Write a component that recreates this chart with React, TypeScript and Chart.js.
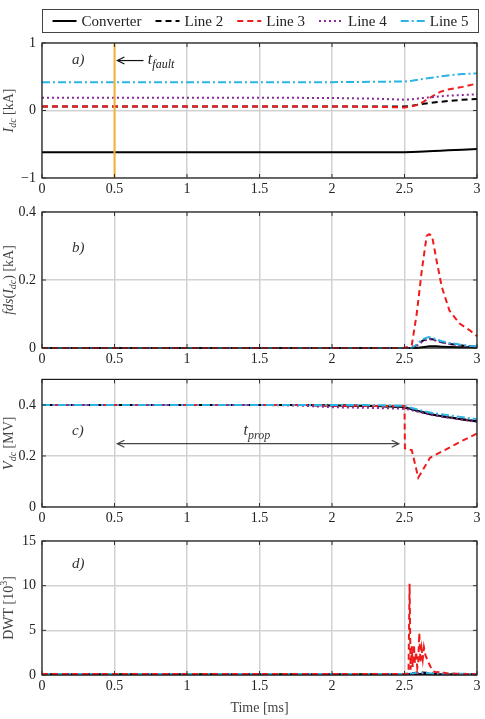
import React, { useEffect, useRef } from "react";
import { Chart, registerables } from "chart.js";
Chart.register(...registerables);

// ---------------- data ----------------
const SERIES_NAMES = ["Converter", "Line 2", "Line 3", "Line 4", "Line 5"];
const X_TICKS = [0, 0.5, 1, 1.5, 2, 2.5, 3];

// a) I_dc [kA]
const timeA = [0, 0.5, 1, 1.5, 2, 2.3, 2.5, 2.55, 2.6, 2.7, 2.75, 2.8, 2.9, 3];
const convA = [-0.62, -0.62, -0.62, -0.62, -0.62, -0.62, -0.62, -0.615, -0.61, -0.6, -0.595, -0.59, -0.58, -0.57];
const line2A = [0.06, 0.06, 0.06, 0.06, 0.06, 0.06, 0.06, 0.07, 0.09, 0.12, 0.13, 0.14, 0.16, 0.17];
const line3A = [0.06, 0.06, 0.06, 0.06, 0.06, 0.055, 0.045, 0.06, 0.09, 0.22, 0.28, 0.31, 0.35, 0.4];
const line4A = [0.19, 0.19, 0.19, 0.19, 0.185, 0.175, 0.16, 0.165, 0.18, 0.2, 0.21, 0.22, 0.23, 0.24];
const line5A = [0.42, 0.42, 0.42, 0.42, 0.42, 0.425, 0.43, 0.44, 0.46, 0.49, 0.505, 0.52, 0.54, 0.55];

// b) fds(I_dc) [kA]
const timeB = [0, 2.5, 2.55, 2.584, 2.62, 2.653, 2.67, 2.69, 2.72, 2.757, 2.81, 2.88, 2.95, 3];
const convB = [0, 0, 0, 0, 0.002, 0.004, 0.005, 0.005, 0.005, 0.004, 0.003, 0.002, 0.002, 0.001];
const line2B = [0, 0, 0, 0.008, 0.02, 0.027, 0.028, 0.026, 0.022, 0.017, 0.012, 0.008, 0.005, 0.004];
const line3B = [0, 0, 0.008, 0.1, 0.23, 0.33, 0.335, 0.33, 0.26, 0.18, 0.11, 0.072, 0.052, 0.035];
const line4B = [0, 0, 0, 0.006, 0.018, 0.024, 0.026, 0.025, 0.021, 0.016, 0.012, 0.008, 0.005, 0.004];
const line5B = [0, 0, 0, 0.01, 0.025, 0.03, 0.032, 0.03, 0.025, 0.02, 0.015, 0.01, 0.006, 0.005];

// c) V_dc [MV]
const timeC = [0, 1.5, 1.8, 2, 2.3, 2.5, 2.503, 2.52, 2.55, 2.595, 2.676, 2.8, 2.9, 3];
const convC = [0.4, 0.4, 0.4, 0.398, 0.396, 0.392, 0.391, 0.388, 0.383, 0.376, 0.363, 0.352, 0.343, 0.335];
const line2C = [0.4, 0.4, 0.4, 0.398, 0.396, 0.392, 0.391, 0.388, 0.383, 0.376, 0.364, 0.352, 0.344, 0.336];
const line3C = [0.4, 0.4, 0.4, 0.397, 0.396, 0.396, 0.23, 0.225, 0.223, 0.115, 0.193, 0.23, 0.26, 0.288];
const line4C = [0.4, 0.4, 0.397, 0.391, 0.388, 0.385, 0.385, 0.383, 0.379, 0.373, 0.362, 0.35, 0.342, 0.334];
const line5C = [0.4, 0.4, 0.4, 0.4, 0.399, 0.396, 0.395, 0.392, 0.388, 0.381, 0.37, 0.36, 0.352, 0.344];

// d) DWT [10^3]
const timeD = [0, 2.5, 2.55, 2.6, 2.65, 2.7, 3];
const convD = [0.08, 0.08, 0.1, 0.12, 0.1, 0.08, 0.08];
const line2D = [0.1, 0.1, 0.2, 0.3, 0.25, 0.15, 0.1];
const line4D = [0.1, 0.1, 0.15, 0.2, 0.18, 0.12, 0.1];
const line5D = [0.12, 0.12, 0.18, 0.28, 0.22, 0.15, 0.12];
const timeD3 = [0, 2.5, 2.52, 2.528, 2.535, 2.542, 2.55, 2.557, 2.565, 2.572, 2.58, 2.588, 2.595, 2.602, 2.61, 2.618, 2.626, 2.634, 2.645, 2.66, 2.68, 2.7, 2.72, 2.75, 2.8, 3];
const line3D = [0.1, 0.1, 0.1, 0.5, 10.2, 0.6, 3.2, 0.9, 3.4, 1.3, 2.6, 0.8, 1.5, 4.7, 1.4, 2.9, 1.8, 3.1, 2.2, 1.6, 0.9, 0.4, 0.3, 0.35, 0.15, 0.1];

// ---------------- styles ----------------
const FONT = '"Liberation Serif", "DejaVu Serif", serif';
const STYLES = [
  { color: "#000000", dash: [] as number[] },
  { color: "#000000", dash: [6, 4] },
  { color: "#ee1c1c", dash: [6, 4] },
  { color: "#8a2a9a", dash: [2, 3] },
  { color: "#2ab4e6", dash: [8, 3, 2, 3] },
];

type Seg = { s: string; it?: boolean; sub?: boolean; sup?: boolean };
function segFont(g: Seg, size: number) {
  const sz = g.sub || g.sup ? Math.round(size * 0.72) : size;
  return `${g.it ? "italic " : ""}${sz}px ${FONT}`;
}
function richWidth(ctx: CanvasRenderingContext2D, segs: Seg[], size: number) {
  let w = 0;
  for (const g of segs) {
    ctx.font = segFont(g, size);
    w += ctx.measureText(g.s).width;
  }
  return w;
}
function drawRich(ctx: CanvasRenderingContext2D, segs: Seg[], x: number, y: number, size: number, color: string, align: "left" | "center") {
  ctx.save();
  ctx.fillStyle = color;
  ctx.textBaseline = "middle";
  ctx.textAlign = "left";
  let cx = align === "center" ? x - richWidth(ctx, segs, size) / 2 : x;
  for (const g of segs) {
    ctx.font = segFont(g, size);
    const dy = g.sub ? size * 0.3 : g.sup ? -size * 0.35 : 0;
    ctx.fillText(g.s, cx, y + dy);
    cx += ctx.measureText(g.s).width;
  }
  ctx.restore();
}
function drawYTitle(chart: any, segs: Seg[]) {
  const ctx = chart.ctx as CanvasRenderingContext2D;
  const a = chart.chartArea;
  ctx.save();
  ctx.translate(9, (a.top + a.bottom) / 2);
  ctx.rotate(-Math.PI / 2);
  drawRich(ctx, segs, 0, 0, 14, "#444", "center");
  ctx.restore();
}
function arrowHead(ctx: CanvasRenderingContext2D, x: number, y: number, dir: number) {
  ctx.beginPath();
  ctx.moveTo(x + dir * 7, y - 3.5);
  ctx.lineTo(x, y);
  ctx.lineTo(x + dir * 7, y + 3.5);
  ctx.stroke();
}

function makeDatasets(list: { t: number[]; v: number[] }[]) {
  return list.map((d, i) => ({
    label: SERIES_NAMES[i],
    data: d.t.map((t, k) => ({ x: t, y: d.v[k] })),
    borderColor: STYLES[i].color,
    borderDash: STYLES[i].dash,
    borderWidth: 2,
    pointRadius: 0,
    tension: 0,
    fill: false,
    clip: false as any,
    order: 5 - i,
  }));
}

type PanelSpec = {
  height: number;
  padTop: number;
  xHeight: number;
  yMin: number;
  yMax: number;
  yTicks: number[];
  datasets: any[];
  decorate: (chart: any) => void;
  afterData?: (chart: any) => void;
};

function fmt(v: number) {
  return String(v).replace("-", "\u2212");
}

function buildConfig(p: PanelSpec): any {
  return {
    type: "line",
    data: { datasets: p.datasets },
    options: {
      responsive: false,
      maintainAspectRatio: false,
      animation: false,
      devicePixelRatio: 1,
      layout: { padding: { top: p.padTop, left: 0, right: 8, bottom: 0 } },
      plugins: { legend: { display: false }, tooltip: { enabled: false } },
      scales: {
        x: {
          type: "linear",
          min: 0,
          max: 3,
          afterBuildTicks: (s: any) => {
            s.ticks = X_TICKS.map((v) => ({ value: v }));
          },
          afterFit: (s: any) => {
            s.height = p.xHeight;
          },
          grid: { color: "#d2d2d2", lineWidth: 1.5, drawTicks: false },
          border: { display: false },
          ticks: { padding: 3, color: "#222", font: { family: FONT, size: 14 }, maxRotation: 0, callback: (v: number) => fmt(v) },
        },
        y: {
          type: "linear",
          min: p.yMin,
          max: p.yMax,
          afterBuildTicks: (s: any) => {
            s.ticks = p.yTicks.map((v) => ({ value: v }));
          },
          afterFit: (s: any) => {
            s.width = 42;
          },
          grid: { color: "#d2d2d2", lineWidth: 1.5, drawTicks: false },
          border: { display: false },
          ticks: { padding: 6, color: "#222", font: { family: FONT, size: 14 }, callback: (v: number) => fmt(v) },
        },
      },
    },
    plugins: [
      {
        id: "deco",
        afterDatasetsDraw: (chart: any) => {
          if (p.afterData) p.afterData(chart);
        },
        afterDraw: (chart: any) => {
          const ctx = chart.ctx as CanvasRenderingContext2D;
          const a = chart.chartArea;
          ctx.save();
          ctx.strokeStyle = "#1a1a1a";
          ctx.lineWidth = 1.2;
          ctx.strokeRect(a.left, a.top, a.right - a.left, a.bottom - a.top);
          // inner tick marks
          ctx.lineWidth = 1;
          ctx.strokeStyle = "#333";
          const xs = chart.scales.x, ys = chart.scales.y;
          ctx.beginPath();
          for (const v of X_TICKS) {
            const x = xs.getPixelForValue(v);
            ctx.moveTo(x, a.bottom); ctx.lineTo(x, a.bottom - 4);
            ctx.moveTo(x, a.top); ctx.lineTo(x, a.top + 4);
          }
          for (const v of p.yTicks) {
            const y = ys.getPixelForValue(v);
            ctx.moveTo(a.left, y); ctx.lineTo(a.left + 4, y);
            ctx.moveTo(a.right, y); ctx.lineTo(a.right - 4, y);
          }
          ctx.stroke();
          ctx.restore();
          p.decorate(chart);
        },
      },
    ],
  };
}

function label(chart: any, text: string, t: number, v: number) {
  const ctx = chart.ctx as CanvasRenderingContext2D;
  drawRich(ctx, [{ s: text, it: true }], chart.scales.x.getPixelForValue(t), chart.scales.y.getPixelForValue(v), 15, "#333", "left");
}

const panelA: PanelSpec = {
  height: 195,
  padTop: 43,
  xHeight: 17,
  yMin: -1,
  yMax: 1,
  yTicks: [-1, 0, 1],
  datasets: makeDatasets([
    { t: timeA, v: convA },
    { t: timeA, v: line2A },
    { t: timeA, v: line3A },
    { t: timeA, v: line4A },
    { t: timeA, v: line5A },
  ]),
  afterData: (chart) => {
    const ctx = chart.ctx as CanvasRenderingContext2D;
    const a = chart.chartArea;
    const x = chart.scales.x.getPixelForValue(0.5);
    ctx.save();
    ctx.strokeStyle = "#f5b335";
    ctx.lineWidth = 2;
    ctx.beginPath();
    ctx.moveTo(x, a.top);
    ctx.lineTo(x, a.bottom);
    ctx.stroke();
    ctx.restore();
  },
  decorate: (chart) => {
    const ctx = chart.ctx as CanvasRenderingContext2D;
    const a = chart.chartArea;
    const xs = chart.scales.x, ys = chart.scales.y;
    // legend
    const bx = a.left, bw = a.right + 2 - a.left, by = 9, bh = 24;
    ctx.save();
    ctx.fillStyle = "#fff";
    ctx.fillRect(bx, by, bw, bh);
    ctx.strokeStyle = "#444";
    ctx.lineWidth = 1;
    ctx.strokeRect(bx + 0.5, by + 0.5, bw - 1, bh - 1);
    ctx.font = `15px ${FONT}`;
    const sample = 24, gapTxt = 5, gapItem = 14;
    const widths = SERIES_NAMES.map((n) => ctx.measureText(n).width);
    const total = widths.reduce((s, w) => s + w + sample + gapTxt, 0) + gapItem * (SERIES_NAMES.length - 1);
    let cx = bx + (bw - total) / 2;
    const cy = by + bh / 2;
    SERIES_NAMES.forEach((n, i) => {
      ctx.strokeStyle = STYLES[i].color;
      ctx.setLineDash(STYLES[i].dash);
      ctx.lineWidth = 2;
      ctx.beginPath();
      ctx.moveTo(cx, cy);
      ctx.lineTo(cx + sample, cy);
      ctx.stroke();
      ctx.setLineDash([]);
      ctx.fillStyle = "#222";
      ctx.textBaseline = "middle";
      ctx.textAlign = "left";
      ctx.fillText(n, cx + sample + gapTxt, cy + 1);
      cx += sample + gapTxt + widths[i] + gapItem;
    });
    ctx.restore();
    // annotations
    label(chart, "a)", 0.207, 0.74);
    const ay = ys.getPixelForValue(0.74);
    const x1 = xs.getPixelForValue(0.52), x2 = xs.getPixelForValue(0.7);
    ctx.save();
    ctx.strokeStyle = "#111";
    ctx.lineWidth = 1.2;
    ctx.beginPath();
    ctx.moveTo(x1, ay);
    ctx.lineTo(x2, ay);
    ctx.stroke();
    arrowHead(ctx, x1, ay, 1);
    ctx.restore();
    drawRich(ctx, [{ s: "t", it: true }, { s: "fault", it: true, sub: true }], xs.getPixelForValue(0.73), ay - 1, 16, "#222", "left");
    drawYTitle(chart, [{ s: "I", it: true }, { s: "dc", it: true, sub: true }, { s: " [kA]" }]);
  },
};

const panelB: PanelSpec = {
  height: 170,
  padTop: 17,
  xHeight: 17,
  yMin: 0,
  yMax: 0.4,
  yTicks: [0, 0.2, 0.4],
  datasets: makeDatasets([
    { t: timeB, v: convB },
    { t: timeB, v: line2B },
    { t: timeB, v: line3B },
    { t: timeB, v: line4B },
    { t: timeB, v: line5B },
  ]).map((d, i) => (i === 2 ? { ...d, order: 0 } : d)),
  decorate: (chart) => {
    label(chart, "b)", 0.207, 0.295);
    drawYTitle(chart, [{ s: "fds", it: true }, { s: "(" }, { s: "I", it: true }, { s: "dc", it: true, sub: true }, { s: ") [kA]" }]);
  },
};

const panelC: PanelSpec = {
  height: 160,
  padTop: 8,
  xHeight: 18,
  yMin: 0,
  yMax: 0.5,
  yTicks: [0, 0.2, 0.4],
  datasets: makeDatasets([
    { t: timeC, v: convC },
    { t: timeC, v: line2C },
    { t: timeC, v: line3C },
    { t: timeC, v: line4C },
    { t: timeC, v: line5C },
  ]),
  decorate: (chart) => {
    const ctx = chart.ctx as CanvasRenderingContext2D;
    const xs = chart.scales.x, ys = chart.scales.y;
    label(chart, "c)", 0.207, 0.297);
    const y = ys.getPixelForValue(0.248);
    const x1 = xs.getPixelForValue(0.52), x2 = xs.getPixelForValue(2.46);
    ctx.save();
    ctx.strokeStyle = "#444";
    ctx.lineWidth = 1.3;
    ctx.beginPath();
    ctx.moveTo(x1, y);
    ctx.lineTo(x2, y);
    ctx.stroke();
    arrowHead(ctx, x1, y, 1);
    arrowHead(ctx, x2, y, -1);
    ctx.restore();
    drawRich(ctx, [{ s: "t", it: true }, { s: "prop", it: true, sub: true }], xs.getPixelForValue(1.39), ys.getPixelForValue(0.297), 16, "#333", "left");
    drawYTitle(chart, [{ s: "V", it: true }, { s: "dc", it: true, sub: true }, { s: " [MV]" }]);
  },
};

const panelD: PanelSpec = {
  height: 194,
  padTop: 16,
  xHeight: 44,
  yMin: 0,
  yMax: 15,
  yTicks: [0, 5, 10, 15],
  datasets: makeDatasets([
    { t: timeD, v: convD },
    { t: timeD, v: line2D },
    { t: timeD3, v: line3D },
    { t: timeD, v: line4D },
    { t: timeD, v: line5D },
  ]).map((d, i) => (i === 2 ? { ...d, order: 0 } : d)),
  decorate: (chart) => {
    const ctx = chart.ctx as CanvasRenderingContext2D;
    const a = chart.chartArea;
    label(chart, "d)", 0.207, 12.4);
    drawYTitle(chart, [{ s: "DWT [10" }, { s: "3", sup: true }, { s: "]" }]);
    drawRich(ctx, [{ s: "Time [ms]" }], (a.left + a.right) / 2, a.bottom + 33, 14, "#444", "center");
  },
};

function Panel({ spec, top }: { spec: PanelSpec; top: number }) {
  const ref = useRef<HTMLCanvasElement>(null);
  useEffect(() => {
    const chart = new Chart(ref.current as HTMLCanvasElement, buildConfig(spec));
    return () => chart.destroy();
  }, []);
  return (
    <canvas
      ref={ref}
      width={485}
      height={spec.height}
      style={{ position: "absolute", left: 0, top, width: 485, height: spec.height, display: "block" }}
    />
  );
}

export default function App() {
  return (
    <div style={{ position: "absolute", left: 0, top: 0, width: 485, height: 719, background: "#fff", overflow: "hidden" }}>
      <Panel spec={panelA} top={0} />
      <Panel spec={panelB} top={195} />
      <Panel spec={panelC} top={365} />
      <Panel spec={panelD} top={525} />
    </div>
  );
}
